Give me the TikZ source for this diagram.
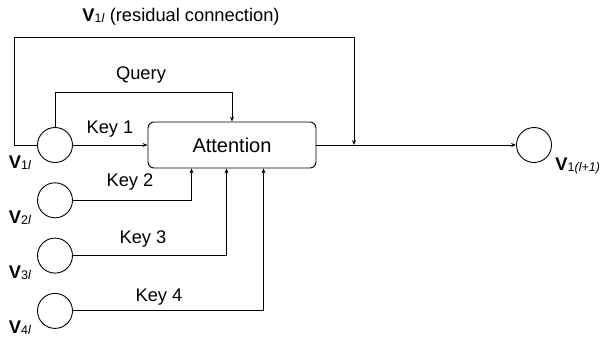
\documentclass[tikz,border=0pt]{standalone}
\usepackage{fontspec}
\setmainfont{Liberation Sans}
\usepackage{tikz}
\usetikzlibrary{arrows.meta}
\newcommand*{\feat}[1][]{\textbf{V}{\fontsize{12.5}{12}\selectfont\raisebox{-1pt}{#1}}}
\newcommand*{\keyfont}{\fontsize{18.3}{20}\selectfont}

\begin{document}
\begin{tikzpicture}[line width=0.9pt, >={Stealth[length=5pt,width=4pt]},
    label/.style={font=\keyfont, inner sep=0pt}]
        \useasboundingbox (0,0) rectangle (602pt,341pt);

        {\tikzstyle{every node}=[circle, draw, minimum size=35pt, inner sep=0pt]
          \foreach \i in {1, 2, 3, 4}
          {
            \node (v\i) at (55pt, 196pt-\i*55.3pt+55.3pt) {};
          }
          \node (out) at (534pt, 196pt) {};
        }

        \node (att) [draw, rounded corners=6pt, minimum width=168pt,
          minimum height=46pt, font=\fontsize{20}{22}\selectfont]
          at (232pt, 196pt) {Attention};
        \coordinate (merge) at (354pt, 196pt);

        % value labels
        \foreach \i in {1, 2, 3, 4}
        {
          \node [label, anchor=base] at ([xshift=-35pt, yshift=-23pt]v\i.center)
            {\feat[\i\textit{l}]};
        }
        \node [label, anchor=base west] at (555pt, 171pt) {\feat[1\textit{(l+1)}]};

        % query and keys
        \draw [->] (v1.north) -- ++(0, 35pt) -| (att.north);
        \draw [->] (v1.east) -- (att.west);
        \draw [->] (v2.east) -| ([xshift=44pt]att.south west);
        \draw [->] (v3.east) -| ([xshift=79pt]att.south west);
        \draw [->] (v4.east) -| ([xshift=116pt]att.south west);
        \node [label] at (141pt, 266pt) {Query};
        \node [label] at (110pt, 212pt) {Key 1};
        \node [label] at (130pt, 159pt) {Key 2};
        \node [label] at (143pt, 102pt) {Key 3};
        \node [label] at (159pt, 44pt) {Key 4};

        % residual connection
        \draw [->] (v1.west) -- ++(-23pt, 0) |- ([yshift=108pt]merge) -- (merge);
        \draw [->] (att.east) -- (out.west);
        \node [label, anchor=west] at (82pt, 324pt)
          {\feat[1\textit{l}] (residual connection)};
      \end{tikzpicture}
\end{document}
